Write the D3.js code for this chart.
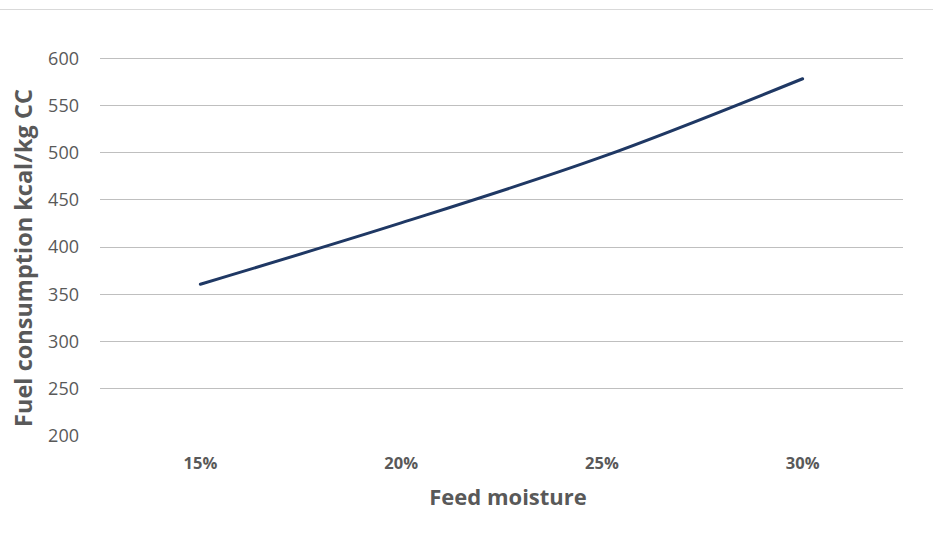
<!DOCTYPE html>
<html>
<head>
<meta charset="utf-8">
<script src="https://cdn.jsdelivr.net/npm/d3@7"></script>
<style>
  body { margin: 0; background: #fff; }
  text { font-family: "Open Sans", sans-serif; fill: #595959; }
</style>
</head>
<body>
<div id="chart"></div>
<script>
// Data
var categories = ["15%", "20%", "25%", "30%"];
var fuelValues = [360, 425, 495, 578];
var yTicks = [200, 250, 300, 350, 400, 450, 500, 550, 600];

var width = 933, height = 535;

var svg = d3.select("#chart").append("svg")
    .attr("width", width)
    .attr("height", height);

// Top border line
svg.append("line")
    .attr("x1", 0).attr("x2", width)
    .attr("y1", 9.5).attr("y2", 9.5)
    .style("stroke", "#d9d9d9")
    .style("stroke-width", 1);

// Scales
var xScale = d3.scaleBand()
    .domain(categories)
    .range([100, 903]);

var yScale = d3.scaleLinear()
    .domain([200, 600])
    .range([435, 58]);

// Gridlines
svg.selectAll(".grid")
    .data(yTicks.filter(d => d > 200))
    .enter().append("line")
    .attr("class", "grid")
    .attr("x1", 100).attr("x2", 903)
    .attr("y1", d => Math.round(yScale(d)) + 0.5)
    .attr("y2", d => Math.round(yScale(d)) + 0.5)
    .style("stroke", "#bfbfbf")
    .style("stroke-width", 1);

// Y axis labels
var yAxis = svg.append("g")
    .attr("transform", "translate(100,0)")
    .call(d3.axisLeft(yScale).tickValues(yTicks).tickSize(0).tickPadding(21));
yAxis.select(".domain").remove();
yAxis.selectAll("text")
    .attr("dy", "0.36em")
    .style("font-size", "18px")
    .style("fill", "#595959");

// X axis labels
var xAxis = svg.append("g")
    .attr("transform", "translate(0,469)")
    .call(d3.axisBottom(xScale).tickSize(0).tickPadding(0));
xAxis.select(".domain").remove();
xAxis.selectAll("text")
    .attr("y", 0)
    .attr("dy", null)
    .style("font-size", "16.5px")
    .style("font-weight", "bold")
    .style("fill", "#595959");

// Line
var line = d3.line()
    .x((d, i) => xScale(categories[i]) + xScale.bandwidth() / 2)
    .y(d => yScale(d))
    .curve(d3.curveCatmullRom);

svg.append("path")
    .datum(fuelValues)
    .attr("d", line)
    .style("fill", "none")
    .style("stroke", "#1f3864")
    .style("stroke-width", 3)
    .style("stroke-linecap", "round");

// Axis titles
svg.append("text")
    .attr("x", 508)
    .attr("y", 505)
    .attr("text-anchor", "middle")
    .style("font-size", "22px")
    .style("font-weight", "bold")
    .text("Feed moisture");

svg.append("text")
    .attr("transform", "translate(32,258) rotate(-90)")
    .attr("text-anchor", "middle")
    .style("font-size", "23.5px")
    .style("font-weight", "bold")
    .text("Fuel consumption kcal/kg CC");
</script>
</body>
</html>
